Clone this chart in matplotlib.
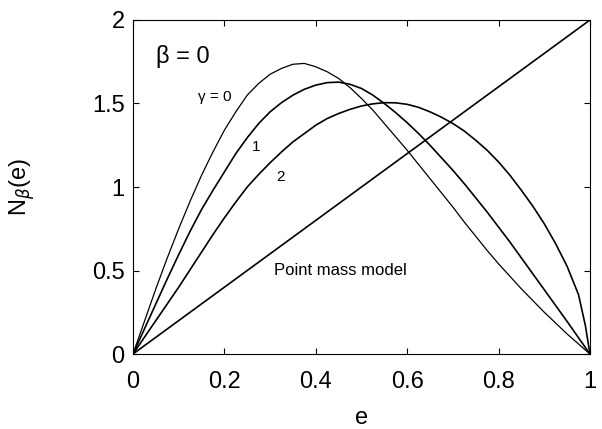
import numpy as np
import matplotlib
matplotlib.use('Agg')
from matplotlib import pyplot as plt

# eccentricity samples and the curves
e = [0, 0.025, 0.05, 0.075, 0.1, 0.125, 0.15, 0.175, 0.2, 0.225, 0.25,
     0.275, 0.3, 0.325, 0.35, 0.375, 0.4, 0.425, 0.45, 0.475, 0.5,
     0.525, 0.55, 0.575, 0.6, 0.625, 0.65, 0.675, 0.7, 0.725, 0.75,
     0.775, 0.8, 0.825, 0.85, 0.875, 0.9, 0.925, 0.95, 0.975, 0.99, 0.995, 1.0]
# gamma = 0
n_g0 = [0, 0.195, 0.39, 0.575, 0.75, 0.915, 1.07, 1.21, 1.34, 1.45, 1.55,
        1.62, 1.675, 1.71, 1.735, 1.74, 1.72, 1.69, 1.65, 1.595, 1.53,
        1.46, 1.38, 1.30, 1.22, 1.135, 1.05, 0.965, 0.88, 0.79, 0.705,
        0.62, 0.54, 0.465, 0.39, 0.32, 0.25, 0.185, 0.12, 0.06, 0.024, 0.012, 0]
# gamma = 1
n_g1 = [0, 0.15, 0.30, 0.45, 0.595, 0.735, 0.865, 0.98, 1.09, 1.20, 1.295,
        1.38, 1.45, 1.505, 1.55, 1.585, 1.61, 1.625, 1.628, 1.615, 1.59,
        1.55, 1.50, 1.445, 1.385, 1.32, 1.25, 1.175, 1.10, 1.02, 0.935,
        0.85, 0.76, 0.67, 0.575, 0.48, 0.385, 0.29, 0.195, 0.097, 0.039, 0.019, 0]
# gamma = 2
n_g2 = [0, 0.10, 0.20, 0.30, 0.40, 0.505, 0.61, 0.715, 0.815, 0.91, 1.00,
        1.075, 1.145, 1.21, 1.27, 1.32, 1.37, 1.41, 1.44, 1.465, 1.485,
        1.498, 1.505, 1.504, 1.495, 1.477, 1.45, 1.418, 1.38, 1.335, 1.28,
        1.22, 1.15, 1.07, 0.98, 0.885, 0.78, 0.66, 0.525, 0.355, 0.17, 0.085, 0]
# point mass model
e_pm = [0, 1]
n_pm = [0, 2]

plt.rcParams['font.family'] = ['Liberation Sans', 'DejaVu Sans']

fig = plt.figure(figsize=(6.02, 4.29), dpi=100)
ax = fig.add_axes([0.2209, 0.1748, 0.7591, 0.7786])

ax.plot(e, n_g0, color='black', lw=0.9)
ax.plot(e, n_g1, color='black', lw=1.2)
ax.plot(e, n_g2, color='black', lw=1.2)
ax.plot(e_pm, n_pm, color='black', lw=1.2)

ax.set_xlim(0, 1)
ax.set_ylim(0, 2)
ax.set_xticks([0, 0.2, 0.4, 0.6, 0.8, 1])
ax.set_xticklabels(['0', '0.2', '0.4', '0.6', '0.8', '1'])
ax.set_yticks([0, 0.5, 1, 1.5, 2])
ax.set_yticklabels(['0', '0.5', '1', '1.5', '2'])
ax.tick_params(axis='x', direction='in', length=4, width=0.8, top=True, labelsize=17, pad=12)
ax.tick_params(axis='y', direction='in', length=4, width=0.8, right=True, labelsize=17, pad=6)
for s in ax.spines.values():
    s.set_linewidth(0.8)

ax.set_xlabel('e', fontsize=17)
ax.xaxis.set_label_coords(0.5, -0.16)
ax.set_ylabel(r'N$_\beta$(e)', fontsize=17)
ax.yaxis.set_label_coords(-0.21, 0.5)

ax.text(0.05, 1.78, 'β = 0', fontsize=17, ha='left', va='center')
ax.text(0.179, 1.54, 'γ = 0', fontsize=11, ha='center', va='center')
ax.text(0.269, 1.24, '1', fontsize=11, ha='center', va='center')
ax.text(0.322, 1.06, '2', fontsize=11, ha='center', va='center')
ax.text(0.454, 0.503, 'Point mass model', fontsize=12, ha='center', va='center')

plt.savefig('out.png', dpi=100)
